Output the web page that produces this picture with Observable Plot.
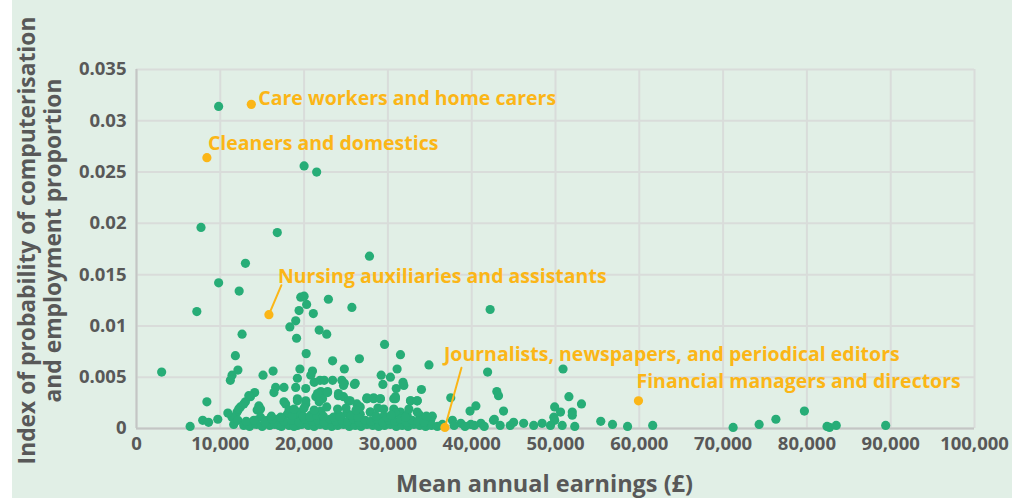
<!DOCTYPE html>
<html><head><meta charset="utf-8">
<script src="https://cdn.jsdelivr.net/npm/d3@7"></script>
<script src="https://cdn.jsdelivr.net/npm/@observablehq/plot@0.6"></script>
<style>
html,body{margin:0;padding:0;background:#fff;}
#chart{margin-left:12px;width:1000px;height:498px;background:#e1efe6;overflow:hidden;}
</style></head><body><div id="chart"></div>
<script>
// ---- Data ----
const earnings = [
 9800,20000,21500,7700,16800,27800,13000,9800,12250,7200,12600,
 19600,20000,20300,22900,25700,19400,21100,19000,18300,21800,22700,19100,11800,20250,23400,26600,24800,19500,12100,11400,11200,15100,16300,21000,20800,19200,21900,22400,23400,24500,24800,26000,19000,16600,17600,16400,14100,13600,13000,12400,12000,11400,22000,22800,24100,24700,25300,26300,27500,19200,20200,21400,22200,14600,14800,17800,18200,
 42200,29600,31500,34900,31100,29200,30300,29400,31800,31900,31000,34000,41900,43000,43200,27500,28300,29100,30700,30900,32700,33500,37500,40500,39800,26700,27900,29500,30700,31500,31700,33800,35100,36500,37700,38700,39900,41100,42600,
 50900,51600,53100,49900,50600,52000,52000,43800,49800,49900,55400,56800,58600,52300,42700,43400,44600,45000,46200,47400,48400,49400,50800,61600,71200,74300,76300,79700,82400,82700,83500,89400,
 3000,8400,6400,7900,8600,9700,10900,11600,12100,12200,12800,13400,14400,14800,14200,15600,16800,17000,18000,19000,19200,
 20200,21200,24700,26100,17600,19200,20200,21600,22800,21800,24100,25500,27500,28300,29100,30900,32700,33500,
 18000,19400,20800,22000,23900,25100,26700,27900,29500,30900,32300,33500,35300,
 12800,13500,14300,15000,15900,16500,17300,18200,18800,19700,20500,21200,21900,22600,23300,24000,24700,25400,26100,26800,27500,28200,28900,29600,30300,31000,31700,32400,33100,33800,34500,35200,35900,37900,39200,40300,41500,
 13100,14000,15300,16200,17600,18500,19400,20100,21000,21700,22400,23100,23800,24500,25200,25900,26600,27300,28000,28700,29400,30100,30800,31500,32200,32900,33600,34300,
 16100,17200,18600,19900,20700,21500,22300,23500,24300,25600,26400,28600,29900,30400,32100,34600,
 18800,20000,21200,22700,24000,25000,26200,28800,32500
];
const indexValues = [
 0.0314,0.0256,0.0250,0.0196,0.0191,0.0168,0.0161,0.0142,0.0134,0.0114,0.0092,
 0.0128,0.0129,0.0121,0.0126,0.0118,0.0115,0.0112,0.0105,0.0099,0.0096,0.0092,0.0088,0.0071,0.0073,0.0066,0.0068,0.0058,0.0058,0.0057,0.0052,0.0047,0.0052,0.0056,0.0056,0.0052,0.0049,0.0047,0.0047,0.0047,0.0047,0.0044,0.0043,0.0040,0.0040,0.0040,0.0035,0.0035,0.0031,0.0026,0.0021,0.0016,0.0011,0.0036,0.0036,0.0032,0.0031,0.0027,0.0024,0.0029,0.0029,0.0027,0.0031,0.0029,0.0022,0.0019,0.0024,0.0018,
 0.0116,0.0082,0.0072,0.0062,0.0058,0.0052,0.0050,0.0043,0.0045,0.0042,0.0039,0.0038,0.0055,0.0036,0.0032,0.0030,0.0030,0.0029,0.0029,0.0031,0.0027,0.0027,0.0030,0.0022,0.0017,0.0021,0.0016,0.0019,0.0019,0.0016,0.0011,0.0013,0.0008,0.0004,0.0008,0.0005,0.0004,0.0005,0.0008,
 0.0058,0.0031,0.0024,0.0021,0.0016,0.0016,0.0013,0.0017,0.0011,0.0008,0.0007,0.0004,0.0002,0.0002,0.0009,0.0003,0.0003,0.0006,0.0005,0.0003,0.0005,0.0003,0.0003,0.0003,0.0001,0.0004,0.0009,0.0017,0.0002,0.0001,0.0003,0.0003,
 0.0055,0.0026,0.0002,0.0008,0.0006,0.0009,0.0015,0.0004,0.0008,0.0019,0.0024,0.0032,0.0018,0.0011,0.0008,0.0008,0.0009,0.0003,0.0005,0.0013,0.0003,
 0.0039,0.0045,0.0042,0.0044,0.0026,0.0027,0.0024,0.0034,0.0035,0.0026,0.0034,0.0027,0.0029,0.0029,0.0029,0.0029,0.0027,0.0027,
 0.0014,0.0016,0.0013,0.0017,0.0012,0.0015,0.0014,0.0016,0.0012,0.0015,0.0013,0.0016,0.0012,
 0.0003,0.0002,0.0004,0.0002,0.0003,0.0004,0.0002,0.0003,0.0002,0.0004,0.0003,0.0002,0.0004,0.0003,0.0002,0.0003,0.0004,0.0002,0.0003,0.0002,0.0004,0.0003,0.0002,0.0003,0.0004,0.0002,0.0003,0.0002,0.0004,0.0003,0.0002,0.0003,0.0002,0.0003,0.0002,0.0003,0.0002,
 0.0007,0.0008,0.0006,0.0009,0.0007,0.0008,0.0006,0.0009,0.0007,0.0008,0.0006,0.0009,0.0007,0.0008,0.0007,0.0009,0.0006,0.0008,0.0007,0.0009,0.0006,0.0008,0.0007,0.0009,0.0006,0.0008,0.0007,0.0006,
 0.0012,0.0011,0.0013,0.0012,0.0011,0.0013,0.0012,0.0011,0.0012,0.0013,0.0011,0.0012,0.0011,0.0013,0.0011,0.0012,
 0.0019,0.0020,0.0018,0.0021,0.0019,0.0020,0.0018,0.0020,0.0019
];
const highlightNames = ["Care workers and home carers","Cleaners and domestics","Nursing auxiliaries and assistants","Journalists, newspapers, and periodical editors","Financial managers and directors"];
const highlightEarnings = [13700, 8400, 15800, 36800, 59900];
const highlightIndex = [0.0316, 0.0264, 0.0111, 0.0001, 0.0027];
const xTicks = [0,10000,20000,30000,40000,50000,60000,70000,80000,90000,100000];
const yTicks = [0,0.005,0.01,0.015,0.02,0.025,0.03,0.035];
const yTickLabels = ["0","0.005","0.01","0.015","0.02","0.025","0.03","0.035"];
const xTitle = "Mean annual earnings (£)";
const yTitle = "Index of probability of computerisation\nand employment proportion";

// ---- Build tables ----
const points = earnings.map((e, i) => ({x: e, y: indexValues[i]}));
const highlights = highlightNames.map((n, i) => ({name: n, x: highlightEarnings[i], y: highlightIndex[i]}));

const GREEN = "#27ad77", ORANGE = "#fbb617", GREY = "#585858";
const FONT = "'Open Sans', 'Noto Sans', sans-serif";

// label placement (pixel offsets from each highlighted dot)
const labelStyle = [
  {dx: 7, dy: -6},
  {dx: 1, dy: -14},
  {dx: 9, dy: -38, line: {len: 32, rot: 23}},
  {dx: -1, dy: -73, line: {len: 62, rot: 15.5}},
  {dx: -2, dy: -19}
];

const lineShape = {draw(ctx, l) { ctx.moveTo(0, 0); ctx.lineTo(0, -l); }};

const marks = [
  Plot.gridY(yTicks, {stroke: "#d9dcda", strokeOpacity: 1, strokeWidth: 2}),
  Plot.gridX(xTicks, {stroke: "#d9dcda", strokeOpacity: 1, strokeWidth: 2}),
  Plot.ruleX([0], {stroke: "#c3c6c4", strokeWidth: 2}),
  Plot.ruleY([0], {stroke: "#c3c6c4", strokeWidth: 2}),
  Plot.axisY(yTicks, {tickSize: 0, tickPadding: 10, tickFormat: (d, i) => yTickLabels[i], fontSize: 18.5, fontWeight: 700, fill: GREY, label: null}),
  Plot.axisX(xTicks, {tickSize: 0, tickPadding: 8, tickFormat: d3.format(","), fontSize: 18.5, fontWeight: 700, fill: GREY, label: null}),
  Plot.dot(points, {x: "x", y: "y", r: 4.6, fill: GREEN}),
  Plot.dot(highlights, {x: "x", y: "y", r: 4.6, fill: ORANGE}),
  Plot.text([yTitle], {frameAnchor: "left", textAnchor: "middle", rotate: -90, dx: -97, dy: -8.5, lineHeight: 1.17, fontSize: 22.8, fontWeight: 700, fill: GREY}),
  Plot.text([xTitle], {frameAnchor: "bottom", textAnchor: "middle", dx: -11, dy: 63, fontSize: 23.5, fontWeight: 700, fill: GREY})
];
highlights.forEach((h, i) => {
  const s = labelStyle[i];
  if (s.line) marks.push(Plot.vector([h], {x: "x", y: "y", length: s.line.len, rotate: s.line.rot, anchor: "start", shape: lineShape, stroke: ORANGE, strokeWidth: 2}));
  marks.push(Plot.text([h], {x: "x", y: "y", text: "name", dx: s.dx, dy: s.dy, textAnchor: "start", fontSize: 19.5, fontWeight: 700, fill: ORANGE}));
});

const chart = Plot.plot({
  width: 1000, height: 498,
  marginLeft: 124, marginRight: 38, marginTop: 69, marginBottom: 70,
  style: {fontFamily: FONT, background: "transparent", overflow: "visible"},
  x: {domain: [0, 100000]},
  y: {domain: [0, 0.035]},
  marks
});
document.getElementById("chart").append(chart);
</script></body></html>
